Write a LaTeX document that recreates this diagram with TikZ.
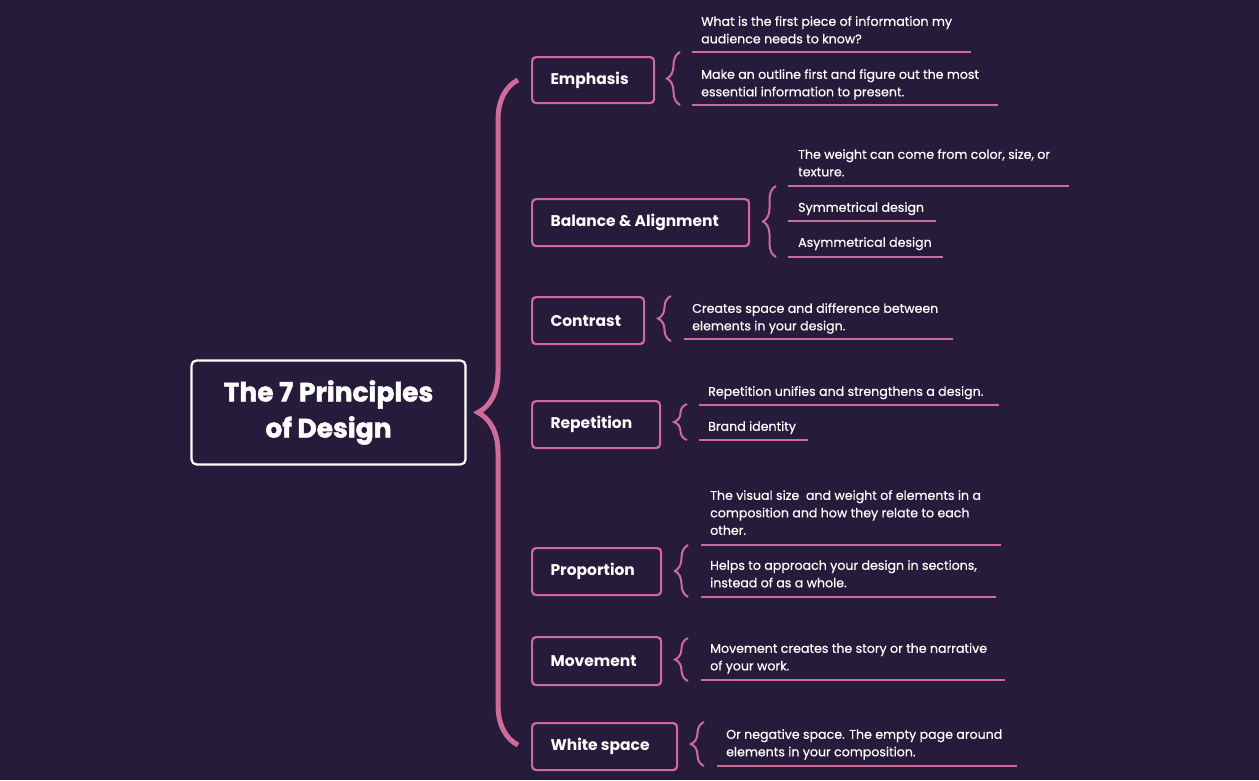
\documentclass[tikz,border=0pt]{standalone}
\usepackage{fontspec}
\setmainfont{Poppins}
\newfontfamily\leaffont[FakeBold=0.6]{Poppins}
\newfontfamily\titlefont[BoldFeatures={FakeBold=1.8}]{Poppins}
\usetikzlibrary{decorations.pathreplacing}
\definecolor{bg}{HTML}{261B3A}
\definecolor{pk}{HTML}{D06A9A}
\tikzset{
  box/.style={draw=pk,line width=2.2pt,rounded corners=4pt,anchor=north west,inner sep=0pt},
  lbl/.style={text=white,font=\fontsize{15.5}{18}\selectfont\bfseries,anchor=west},
  leaf/.style={anchor=north west,inner sep=0pt,text=white,align=left,font=\leaffont\fontsize{12.6}{17.5}\selectfont},
  uline/.style={pk,line width=1.6pt},
  sbrace/.style={pk,line width=2pt,decorate,decoration={brace,amplitude=13pt}},
}
\newcommand{\bx}[6]{\node[box,minimum width=#4pt,minimum height=#5pt] (#1) at (#2,#3) {};\node[lbl] (#1t) at ([xshift=16pt]#1.west) {#6};}
\begin{document}
\begin{tikzpicture}[x=1pt,y=-1pt]
\fill[bg] (0,0) rectangle (1259,780);
\useasboundingbox (0,0) rectangle (1259,780);
% root
\node[draw=white,line width=2.2pt,rounded corners=5pt,minimum width=274pt,minimum height=104pt,align=center,text=white,font=\titlefont\fontsize{26.5}{36}\selectfont\bfseries] (root) at (328.5,412.5) {The 7 Principles\\of Design};
\draw[pk,line width=5pt,decorate,decoration={brace,amplitude=40pt}] (518,745) -- (518,80);
\coordinate (bt) at (478,412);
% boxes
\bx{emp}{531}{56}{122}{46}{Emphasis}
\bx{bal}{531}{198}{217}{47}{Balance \& Alignment}
\bx{con}{531}{296}{112}{47}{Contrast}
\bx{rep}{531}{400}{128}{47}{Repetition}
\bx{pro}{531}{547}{129}{47}{Proportion}
\bx{mov}{531}{636}{129}{48}{Movement}
\bx{whi}{531}{722}{145}{47}{White space}
% small braces
\draw[sbrace] (680,105) -- (680,52);
\draw[sbrace] (776,257) -- (776,186);
\draw[sbrace] (671,341) -- (671,296);
\draw[sbrace] (687,440) -- (687,404);
\draw[sbrace] (688,597) -- (688,545);
\draw[sbrace] (688,681) -- (688,638);
\draw[sbrace] (704,766) -- (704,722);
% leaves
\node[leaf] (e1) at (701,16) {What is the first piece of information my\\audience needs to know?};
\draw[uline] (692,52) -- (971,52);
\node[leaf] (e2) at (701,69) {Make an outline first and figure out the most\\essential information to present.};
\draw[uline] (692,105) -- (998,105);
\node[leaf] (b1) at (798,149) {The weight can come from color, size, or\\texture.};
\draw[uline] (788,186) -- (1069,186);
\node[leaf] (b2) at (798,202) {Symmetrical design};
\draw[uline] (788,221) -- (936,221);
\node[leaf] (b3) at (798,237) {Asymmetrical design};
\draw[uline] (788,257) -- (943,257);
\node[leaf] (c1) at (692,303) {Creates space and difference between\\elements in your design.};
\draw[uline] (684,339) -- (953,339);
\node[leaf] (r1) at (708,386) {Repetition unifies and strengthens a design.};
\draw[uline] (699,405) -- (999,405);
\node[leaf] (r2) at (708,421) {Brand identity};
\draw[uline] (699,440) -- (808,440);
\node[leaf] (p1) at (710,490) {The visual size\ \ and weight of elements in a\\composition and how they relate to each\\other.};
\draw[uline] (701,545) -- (1001,545);
\node[leaf] (p2) at (710,560) {Helps to approach your design in sections,\\instead of as a whole.};
\draw[uline] (701,597) -- (996,597);
\node[leaf] (m1) at (710,643) {Movement creates the story or the narrative\\of your work.};
\draw[uline] (701,680) -- (1005,680);
\node[leaf] (w1) at (726,729) {Or negative space. The empty page around\\elements in your composition.};
\draw[uline] (717,766) -- (1017,766);
\end{tikzpicture}
\end{document}
